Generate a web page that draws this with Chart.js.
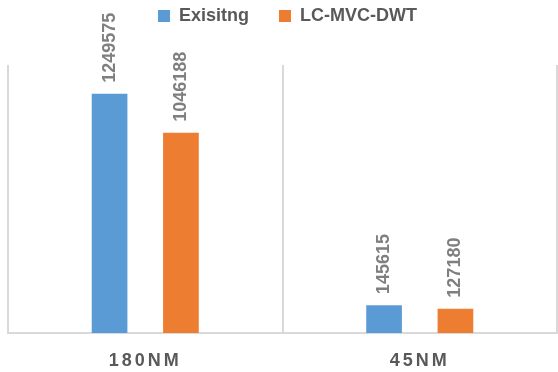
<!DOCTYPE html>
<html>
<head>
<meta charset="utf-8">
<script src="https://cdn.jsdelivr.net/npm/chart.js@4"></script>
<style>
    html, body { margin: 0; padding: 0; background: #ffffff; }
    #wrap { width: 558px; height: 372px; }
</style>
</head>
<body>
<div id="wrap"><canvas id="chart"></canvas></div>
<script>
// données
const categories = ['180NM', '45NM'];
const seriesNames = ['Exisitng', 'LC-MVC-DWT'];
const existingValues = [1249575, 145615];
const lcMvcDwtValues = [1046188, 127180];
const yMax = 1400000;

const FONT = "'Liberation Sans', Arial, sans-serif";

// étiquettes de valeur verticales au-dessus des barres
const valueLabels = {
    id: 'valueLabels',
    afterDatasetsDraw(chart) {
        const ctx = chart.ctx;
        ctx.save();
        ctx.font = 'bold 18px ' + FONT;
        ctx.fillStyle = '#7f7f7f';
        ctx.textAlign = 'left';
        ctx.textBaseline = 'middle';
        chart.data.datasets.forEach((ds, i) => {
            chart.getDatasetMeta(i).data.forEach((bar, j) => {
                ctx.save();
                ctx.translate(bar.x, bar.y - 11);
                ctx.rotate(-Math.PI / 2);
                ctx.fillText(String(ds.data[j]), 0, 0);
                ctx.restore();
            });
        });
        ctx.restore();
        // espacement des lettres pour les libellés de l'axe x (dessinés après)
        ctx.letterSpacing = '3px';
    },
    afterDraw(chart) {
        chart.ctx.letterSpacing = '0px';
    }
};

// réserve de la place sous la légende et la décale un peu à droite
const legendSpace = {
    id: 'legendSpace',
    beforeInit(chart) {
        const fit = chart.legend.fit;
        chart.legend.fit = function () {
            fit.call(this);
            this.height = 88;
        };
    },
    afterLayout(chart) {
        chart.legend.left += 5;
        chart.legend.right += 5;
    }
};

new Chart(document.getElementById('chart'), {
    type: 'bar',
    data: {
        labels: categories,
        datasets: [{
            label: seriesNames[0],
            data: existingValues,
            backgroundColor: '#5B9BD5'
        }, {
            label: seriesNames[1],
            data: lcMvcDwtValues,
            backgroundColor: '#ED7D31'
        }]
    },
    options: {
        responsive: true,
        maintainAspectRatio: false,
        animation: false,
        categoryPercentage: 0.52,
        barPercentage: 0.5,
        layout: { padding: { top: -23, left: 8, right: 1, bottom: -17 } },
        plugins: {
            legend: {
                position: 'top',
                labels: {
                    boxWidth: 12,
                    boxHeight: 12,
                    padding: 30,
                    color: '#595959',
                    font: { family: FONT, size: 18, weight: 'bold' }
                }
            },
            tooltip: { enabled: false }
        },
        scales: {
            x: {
                grid: {
                    display: true,
                    color: '#d9d9d9',
                    lineWidth: 2,
                    drawTicks: false
                },
                border: { display: true, color: '#d9d9d9', width: 2 },
                ticks: {
                    z: 1,
                    padding: 19,
                    color: '#595959',
                    font: { family: FONT, size: 18, weight: 'bold', lineHeight: 1 }
                }
            },
            y: {
                display: false,
                min: 0,
                max: yMax
            }
        }
    },
    plugins: [valueLabels, legendSpace]
});
</script>
</body>
</html>
